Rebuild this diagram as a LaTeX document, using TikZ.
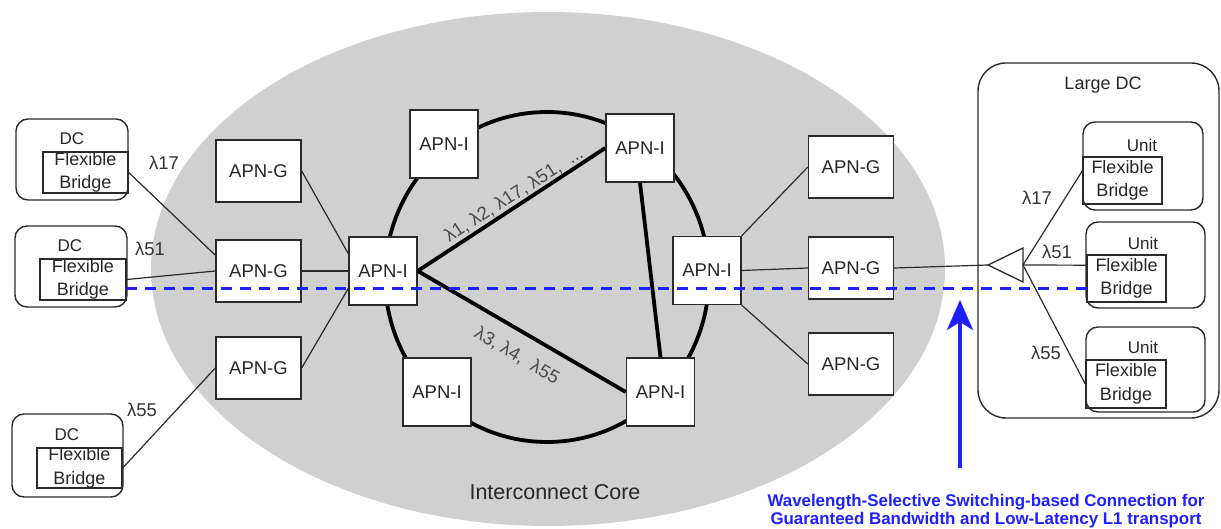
\documentclass[tikz,border=0pt]{standalone}
\usepackage{fontspec}
\setmainfont{Liberation Sans}
\usetikzlibrary{calc,arrows.meta}
\definecolor{coregray}{HTML}{D0D0D0}
\definecolor{edgec}{HTML}{2A2A2A}
\definecolor{lblc}{HTML}{4A4A4A}
\definecolor{wssblue}{HTML}{1F1FFF}
\begin{document}
\begin{tikzpicture}[x=1pt,y=-1pt,
  box/.style={draw=edgec, line width=1.4pt, fill=white, inner sep=0pt, text=black!85, font=\fontsize{18.5}{20}\selectfont},
  apni/.style={box, minimum width=68pt, minimum height=68pt},
  apng/.style={box, minimum width=85pt, minimum height=62pt},
  roundbox/.style={draw=edgec, line width=1.4pt, rounded corners=12pt, fill=white, inner sep=0pt},
  fbbox/.style={draw=edgec, line width=1.4pt, inner sep=0pt, align=center, text=black!85, font=\fontsize{18}{23.5}\selectfont},
  small/.style={inner sep=0pt, text=black!85, font=\fontsize{17}{19}\selectfont},
  lam/.style={inner sep=0pt, text=black!80, font=\fontsize{18.5}{20}\selectfont},
  thin/.style={draw=edgec, line width=1.2pt},
  thick/.style={draw=black, line width=3.8pt},
  ringlbl/.style={inner sep=0pt, text=lblc, font=\fontsize{18.5}{20}\selectfont},
]
\useasboundingbox (0,0) rectangle (1221,529);

% Interconnect core
\fill[coregray] (548,269) ellipse [x radius=397, y radius=257];
\node[inner sep=0pt, text=black!85, font=\fontsize{21.5}{23}\selectfont] (core) at (555,492) {Interconnect Core};

% Ring
\draw[thick] (547,277) ellipse [x radius=162, y radius=165];

% APN-I nodes
\node[apni] (iTL) at (444,144) {APN-I};
\node[apni] (iTR) at (640,148) {APN-I};
\node[apni] (iL)  at (383,271) {APN-I};
\node[apni] (iR)  at (707,270.5) {APN-I};
\node[apni] (iBL) at (437,392) {APN-I};
\node[apni] (iBR) at (660.5,392) {APN-I};

% thick chords
\draw[thick] (iL.east) -- (iTR.west);
\draw[thick] (iL.east) -- (iBR.west);
\draw[thick] (iTR.south) -- (iBR.north);
\node[ringlbl, rotate=32.6] (lamA) at (514,195) {λ1, λ2, λ17, λ51,\ \ ...};
\node[ringlbl, rotate=-30.6] (lamB) at (517,356) {λ3, λ4,\ \ λ55};

% APN-G nodes
\node[apng] (gL1) at (258.5,171) {APN-G};
\node[apng] (gL2) at (258.5,271) {APN-G};
\node[apng] (gL3) at (258.5,368) {APN-G};
\node[apng] (gR1) at (851,167) {APN-G};
\node[apng] (gR2) at (851,268) {APN-G};
\node[apng] (gR3) at (851,364) {APN-G};

% left DCs
\node[roundbox, minimum width=112pt, minimum height=81pt] (dc1) at (72,159.5) {};
\node[roundbox, minimum width=112pt, minimum height=81pt] (dc2) at (71,266.5) {};
\node[roundbox, minimum width=111pt, minimum height=83pt] (dc3) at (67.5,455.5) {};
\node[small] (dc1t) at (72,139) {DC};
\node[small] (dc2t) at (70,246) {DC};
\node[small] (dc3t) at (67,435) {DC};
\node[fbbox, minimum width=85pt, minimum height=41pt] (fb1) at (85.5,172.5) {Flexible\\Bridge};
\node[fbbox, minimum width=86pt, minimum height=41pt] (fb2) at (83,279.5) {Flexible\\Bridge};
\node[fbbox, minimum width=85pt, minimum height=40pt] (fb3) at (79.5,468) {Flexible\\Bridge};

% left connectors
\draw[thin] (fb1.east) -- ($(gL2.west)!0.5!(gL2.north west)$);
\draw[thin] (fb2.east) -- (gL2.west);
\draw[thin] (fb3.east) -- (gL3.west);
\node[lam] (l17) at (164,163) {λ17};
\node[lam] (l51) at (150,249) {λ51};
\node[lam] (l55) at (142,410) {λ55};
\draw[thin] (gL1.east) -- ($(iL.west)!0.5!(iL.north west)$);
\draw[thin] (gL2.east) -- (iL.west);
\draw[thin] (gL3.east) -- ($(iL.west)!0.5!(iL.south west)$);

% right connectors
\draw[thin] (iR.north east) -- (gR1.west);
\draw[thin] (iR.east) -- (gR2.west);
\draw[thin] (iR.south east) -- (gR3.west);

% Large DC
\node[draw=edgec, line width=1.4pt, rounded corners=28pt, minimum width=241pt, minimum height=355pt, inner sep=0pt] (ldc) at (1098.5,240.5) {};
\node[small, font=\fontsize{18}{20}\selectfont] (ldct) at (1103,85) {Large DC};
\node[roundbox, minimum width=120pt, minimum height=88pt] (u1) at (1143,166) {};
\node[roundbox, minimum width=119pt, minimum height=86pt] (u2) at (1145.5,265) {};
\node[roundbox, minimum width=119pt, minimum height=85pt] (u3) at (1145.5,369.5) {};
\node[small] (u1t) at (1142,145) {Unit};
\node[small] (u2t) at (1143,243) {Unit};
\node[small] (u3t) at (1143,347) {Unit};
\node[fbbox, minimum width=79pt, minimum height=47pt] (ub1) at (1122.5,180.5) {Flexible\\Bridge};
\node[fbbox, minimum width=79pt, minimum height=47pt] (ub2) at (1126.5,278.5) {Flexible\\Bridge};
\node[fbbox, minimum width=80pt, minimum height=48pt] (ub3) at (1126,384) {Flexible\\Bridge};

% splitter triangle
\coordinate (triA) at (988,265);
\coordinate (triB) at (1023,265);
\coordinate (triT) at (1023,248);
\coordinate (triD) at (1023,282);
\draw[thin] (gR2.east) -- (triA);
\filldraw[draw=edgec, fill=white, line width=1.3pt] (triA) -- (triT) -- (triD) -- cycle;
\draw[thin] (triB) -- ($(ub1.west)!0.4!(ub1.north west)$);
\draw[thin] (triB) -- ($(ub2.west)!0.55!(ub2.north west)$);
\draw[thin] (triB) -- (ub3.west);
\node[lam] (r17) at (1037,198) {λ17};
\node[lam] (r51) at (1057,252) {λ51};
\node[lam] (r55) at (1046,353) {λ55};

% blue dashed connection
\coordinate (dashL) at (126,289);
\coordinate (dashR) at (1087,289);
\draw[draw=wssblue, line width=3pt, dash pattern=on 11pt off 8pt] (dashL) -- (dashR);

% blue arrow and label
\coordinate (arrS) at (960,468);
\coordinate (arrT) at (960,300);
\draw[draw=wssblue, line width=4pt, -{Stealth[length=30pt, width=26pt, inset=8pt]}] (arrS) -- (arrT);
\node[inner sep=0pt, align=center, text=wssblue, font=\fontsize{16.9}{17.5}\selectfont\bfseries] (wss) at (986,511) {Wavelength-Selective Switching-based Connection for\\Guaranteed Bandwidth and Low-Latency L1 transport};
\end{tikzpicture}
\end{document}
